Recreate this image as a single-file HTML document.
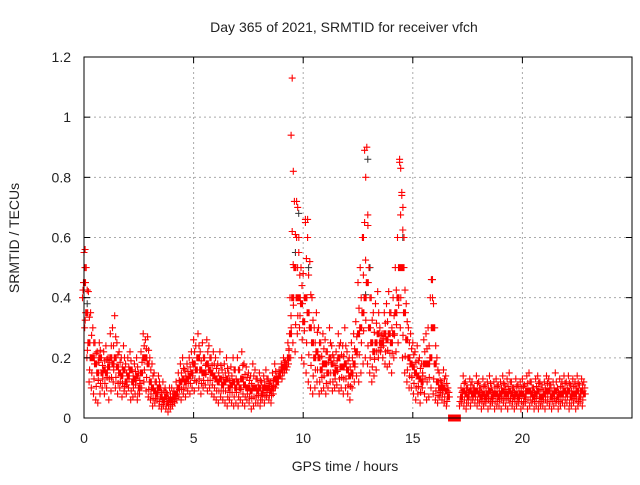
<!DOCTYPE html>
<html><head><meta charset="utf-8"><style>
body{margin:0;background:#fff;width:640px;height:480px;overflow:hidden}
svg text{font-family:"Liberation Sans",sans-serif;font-size:14px;fill:#222}
</style></head><body>
<svg id="c" width="640" height="480">
<rect x="0" y="0" width="640" height="480" fill="#fff"/>
<text x="344" y="32" text-anchor="middle">Day 365 of 2021, SRMTID for receiver vfch</text>
<text x="345" y="471" text-anchor="middle">GPS time / hours</text>
<text transform="translate(19,238) rotate(-90)" text-anchor="middle">SRMTID / TECUs</text>
<g id="grid"></g>
<g id="marks"></g>
<g id="axes"></g>
</svg>
<script>
const xTicks=[0,5,10,15,20];
const yTicks=[0,0.2,0.4,0.6,0.8,1,1.2];
const yTickLabels=["0","0.2","0.4","0.6","0.8","1","1.2"];
const tStart=0, tStep=0.1;
const hiVals=[0.55,0.5,0.42,0.35,0.3,0.25,0.22,0.25,0.2,0.22,
0.24,0.2,0.28,0.3,0.34,0.25,0.22,0.2,0.24,0.18,
0.2,0.22,0.16,0.18,0.2,0.15,0.22,0.28,0.26,0.27,
.2,.18,.15,.12,.14,.1,.12,.1,.08,.1,
.1,.09,.12,.15,.18,.2,.16,.18,.2,.22,
.26,.24,.28,.22,.25,.2,.26,.24,.2,.22,
.2,.18,.22,.16,.18,.2,.15,.17,.2,.16,
.2,.16,.22,.18,.17,.15,.14,.18,.16,.13,
.15,.12,.14,.16,.13,.12,.15,.18,.14,.16,
.18,.2,.19,.25,.4,.62,.72,.6,.55,.5,
.48,.66,.6,.52,.4,.3,.35,.3,.25,.28,
.26,.22,.3,.24,.2,.22,.28,.25,.24,.3,
.22,.2,.25,.28,.32,.45,.5,.6,.65,.9,
.5,.4,.35,.38,.42,.3,.28,.35,.38,.42,
.35,.4,.5,.6,.85,.75,.5,.38,.3,.28,
.25,.22,.24,.2,.18,.26,.28,.3,.4,.46,
.3,.2,.15,.12,.16,.14,.1,0,0,0,
0,0,.1,.14,.12,.1,.13,.12,.1,.14,
.12,.1,.13,.11,.12,.14,.1,.12,.13,.11,
.12,.14,.11,.13,.15,.12,.1,.13,.11,.12,
.13,.11,.14,.15,.12,.1,.13,.14,.12,.11,
.12,.14,.13,.11,.12,.15,.1,.13,.12,.14,
.12,.14,.11,.13,.12,.14,.11,.13,.12];
const loVals=[0.4,0.3,0.2,0.12,0.1,0.08,0.06,0.05,0.08,0.1,
0.08,0.1,0.06,0.09,0.12,0.1,0.08,0.1,0.07,0.09,
0.08,0.1,0.06,0.07,0.08,0.06,0.08,0.1,0.12,0.09,
.07,.06,.04,.05,.06,.04,.03,.04,.03,.02,
.03,.04,.05,.06,.07,.06,.08,.07,.09,.08,
.1,.09,.12,.1,.08,.1,.11,.09,.1,.08,
.07,.06,.05,.07,.06,.05,.04,.06,.05,.04,
.05,.04,.06,.05,.04,.06,.05,.03,.04,.05,
.05,.04,.06,.05,.07,.06,.05,.08,.1,.12,
.14,.13,.15,.16,.18,.2,.25,.22,.28,.3,
.2,.18,.15,.12,.1,.08,.1,.12,.08,.09,
.1,.08,.1,.12,.09,.1,.11,.09,.1,.08,
.1,.08,.06,.1,.12,.14,.12,.15,.18,.2,
.18,.15,.12,.14,.16,.2,.22,.2,.18,.17,
.18,.15,.2,.22,.25,.3,.2,.15,.12,.1,
.1,.08,.06,.08,.05,.1,.08,.06,.07,.1,
.08,.06,.05,.07,.06,.05,.04,0,0,0,
0,0,.04,.05,.04,.03,.05,.04,.06,.05,
.04,.05,.03,.04,.05,.03,.04,.05,.03,.04,
.04,.03,.05,.04,.03,.05,.04,.03,.04,.05,
.03,.04,.05,.03,.04,.05,.03,.04,.03,.04,
.04,.03,.05,.04,.03,.04,.05,.03,.04,.05,
.04,.05,.03,.04,.05,.03,.04,.05,.04];
const midVals=[0.45,0.35,0.25,0.2,0.2,0.18,0.15,0.2,0.15,0.16,
0.15,0.17,0.2,0.18,0.2,0.17,0.15,0.14,0.16,0.12,
0.14,0.16,0.12,0.13,0.14,0.1,0.15,0.2,0.2,0.18,
.12,.1,.09,.08,.1,.07,.06,.07,.05,.06,
.06,.07,.08,.1,.12,.13,.12,.13,.14,.15,
.18,.16,.2,.16,.15,.15,.18,.16,.15,.14,
.13,.12,.13,.11,.12,.13,.1,.11,.12,.1,
.12,.1,.13,.11,.1,.1,.09,.1,.1,.09,
.1,.08,.1,.1,.1,.09,.1,.13,.12,.14,
.16,.17,.17,.2,.28,.4,.5,.4,.4,.38,
.32,.4,.35,.3,.25,.2,.22,.2,.16,.18,
.18,.15,.2,.18,.15,.16,.2,.17,.17,.18,
.16,.14,.15,.18,.22,.28,.3,.35,.4,.45,
.3,.25,.22,.25,.28,.25,.25,.28,.26,.28,
.25,.28,.35,.4,.5,.5,.35,.26,.2,.18,
.17,.15,.14,.13,.12,.18,.18,.18,.2,.3,
.18,.12,.1,.1,.1,.09,.07,0,0,0,
0,0,.07,.09,.08,.07,.09,.08,.08,.09,
.08,.07,.08,.07,.08,.09,.07,.08,.08,.07,
.08,.09,.08,.08,.09,.08,.07,.08,.07,.08,
.08,.07,.09,.09,.08,.07,.08,.09,.07,.07,
.08,.09,.09,.07,.08,.09,.07,.08,.08,.09,
.08,.09,.07,.08,.08,.09,.07,.09,.08];
const spikeT=[0.05,0.1,9.45,9.5,9.55,9.7,9.75,9.8,10.1,10.2,10.3,12.75,12.8,12.85,12.9,12.95,14.4,14.45,14.5,14.55,14.6,15.85,15.9];
const spikeV=[0.56,0.5,0.94,1.13,0.82,0.72,0.7,0.6,0.65,0.66,0.52,0.6,0.89,0.8,0.9,0.64,0.86,0.83,0.74,0.7,0.6,0.46,0.4];
const darkT=[0.1,9.6,9.75,12.8,12.9,13.0,14.5,15.85,10.2];
const darkV=[0.38,0.55,0.68,0.41,0.86,0.5,0.6,0.46,0.5];

const X0=84,X1=632,Y0=418,Y1=57,XMAX=25,YMAX=1.2;
const xs=v=>X0+(X1-X0)*v/XMAX, ys=v=>Y0-(Y0-Y1)*v/YMAX;
const NS="http://www.w3.org/2000/svg";
function mk(tag,attrs,parent){const e=document.createElementNS(NS,tag);for(const k in attrs)e.setAttribute(k,attrs[k]);parent.appendChild(e);return e;}
const grid=document.getElementById('grid'),marks=document.getElementById('marks'),axes=document.getElementById('axes');
xTicks.forEach(v=>{if(v>0){const l=mk('line',{x1:xs(v),x2:xs(v),y1:Y1,y2:Y0,stroke:'#aaa','stroke-dasharray':'2,3'},grid);

}
const t=mk('text',{x:xs(v),y:443,'text-anchor':'middle'},axes);t.textContent=v;


mk('line',{x1:xs(v),x2:xs(v),y1:Y0,y2:Y0-6,stroke:'#000'},axes);mk('line',{x1:xs(v),x2:xs(v),y1:Y1,y2:Y1+6,stroke:'#000'},axes);});
yTicks.forEach((v,i)=>{if(v>0&&v<YMAX){const l=mk('line',{x1:X0,x2:X1,y1:ys(v),y2:ys(v),stroke:'#aaa','stroke-dasharray':'2,3'},grid);

}
const t=mk('text',{x:71,y:ys(v)+5,'text-anchor':'end'},axes);t.textContent=yTickLabels[i];


mk('line',{x1:X0,x2:X0+6,y1:ys(v),y2:ys(v),stroke:'#000'},axes);mk('line',{x1:X1,x2:X1-6,y1:ys(v),y2:ys(v),stroke:'#000'},axes);});
const frame=mk('rect',{x:X0,y:Y1,width:X1-X0,height:Y0-Y1,fill:'none',stroke:'#000'},axes);


let dR='',dK='';
const plus=(x,y)=>`M${(x-3.5).toFixed(1)} ${y.toFixed(1)}h7M${x.toFixed(1)} ${(y-3.5).toFixed(1)}v7`;
darkT.forEach((t,i)=>{dK+=plus(xs(t)+1,ys(darkV[i]));});
hiVals.forEach((h,i)=>{const t=tStart+i*tStep,x=xs(t);
 const lo=loVals[i],m=midVals[i];
 [[0,h],[1.5,m],[-1.5,lo],[1,(m+h)/2],[-1,(m+lo)/2],[0.5,m],[-0.5,m]].forEach(([dx,v])=>{dR+=plus(x+dx,ys(v));});
});
spikeT.forEach((t,i)=>{dR+=plus(xs(t),ys(spikeV[i]));});
const pk=mk('path',{d:dK,stroke:'#333','stroke-width':1,fill:'none'},marks);


const pr=mk('path',{d:dR,stroke:'#f00','stroke-width':1.1,fill:'none'},marks);


</script>
</body></html>
